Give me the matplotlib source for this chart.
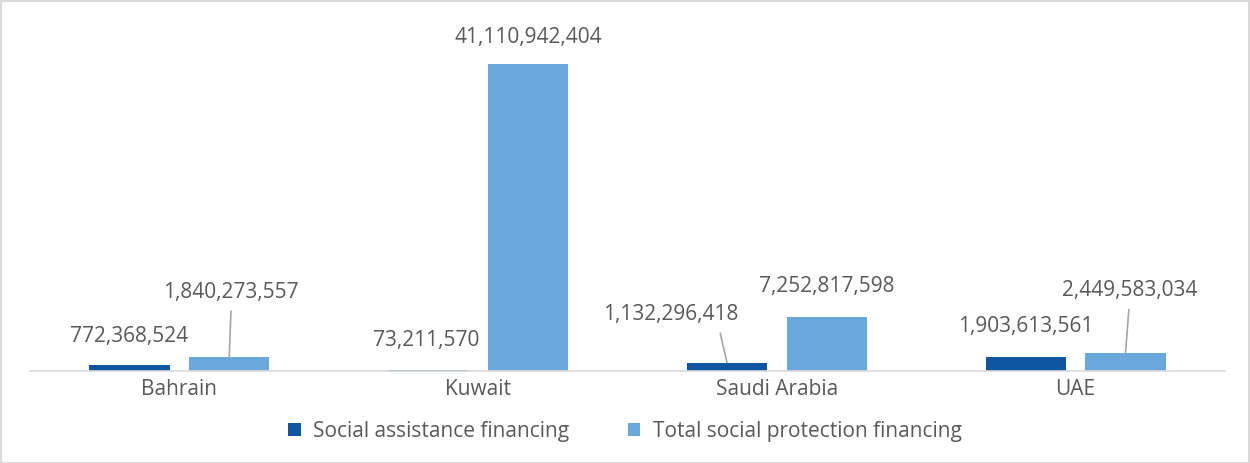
import numpy as np
import matplotlib.pyplot as plt
from matplotlib.patches import Rectangle

countries = ['Bahrain', 'Kuwait', 'Saudi Arabia', 'UAE']
assistance = [772368524, 73211570, 1132296418, 1903613561]
protection = [1840273557, 41110942404, 7252817598, 2449583034]
label1 = 'Social assistance financing'
label2 = 'Total social protection financing'

dark = '#0F56A0'
light = '#6AA8DB'
grey = '#595959'
fs = 15

plt.rcParams['font.family'] = ['Open Sans', 'DejaVu Sans']

fig = plt.figure(figsize=(12.5, 4.63), dpi=100)
ax = fig.add_axes([0.024, 0.1987, 0.956, 0.7257])

x = np.arange(len(countries))
w = 0.268
off = 0.167
b1 = ax.bar(x - off, assistance, w, color=dark, label=label1)
b2 = ax.bar(x + off, protection, w, color=light, label=label2)

ax.set_xlim(-0.5, 3.5)
ax.set_ylim(0, 45e9)
ax.set_yticks([])
ax.set_xticks(x)
ax.set_xticklabels(countries, fontsize=fs, color=grey)
ax.tick_params(axis='x', length=0, pad=6)
for s in ['top', 'right', 'left']:
    ax.spines[s].set_visible(False)
ax.spines['bottom'].set_color('#D9D9D9')
ax.spines['bottom'].set_linewidth(1.2)

# label offsets in pixels (dx, dy, ha, leader x position within label)
offs1 = [(0, 29, 'center', None), (51, 30, 'right', None),
         (-56, 48, 'center', 0.85), (0, 30, 'center', None)]
offs2 = [(2, 65, 'center', 0.5), (0, 27, 'center', None),
         (0, 30, 'center', None), (4, 62, 'center', 0.5)]

def fmt(v):
    return f'{v:,}'

for bars, vals, offs in [(b1, assistance, offs1), (b2, protection, offs2)]:
    for bar, v, (dx, dy, ha, rel) in zip(bars, vals, offs):
        xc = bar.get_x() + bar.get_width() / 2
        kw = {}
        if rel is not None:
            kw['arrowprops'] = dict(arrowstyle='-', color='#A6A6A6', lw=1.2,
                                    shrinkA=4, shrinkB=0, relpos=(rel, 0))
        ax.annotate(fmt(v), xy=(xc, v), xytext=(dx, dy),
                    textcoords='offset pixels', ha=ha, va='center',
                    fontsize=fs, color=grey, **kw)

fig.legend(loc='center', bbox_to_anchor=(0.5, 0.069), ncol=2, frameon=False,
           fontsize=fs, labelcolor=grey, handlelength=0.6, handleheight=0.6,
           handletextpad=0.6, columnspacing=2.8)

fig.patches.append(Rectangle((0.001, 0.001), 0.998, 0.997, transform=fig.transFigure,
                             fill=False, edgecolor='#D9D9D9', lw=1.5))

plt.savefig('out.png', dpi=100)
